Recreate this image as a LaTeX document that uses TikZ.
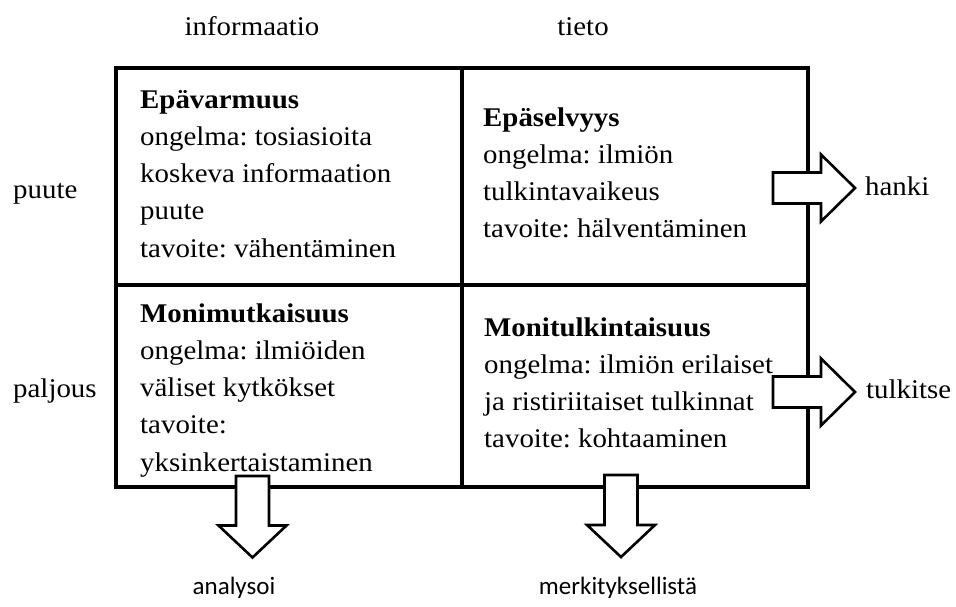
\documentclass[tikz,border=0pt]{standalone}
\usepackage{fontspec}
\newfontfamily\labelsans{Carlito}
% book-style serif for cell texts and headings, slightly widened
\newfontfamily\pal[FakeStretch=1.07]{Liberation Serif}
\usetikzlibrary{calc}
\frenchspacing

\newcommand\palsize{27}
% cell text: lines stacked in a \vtop so the node's base is the first line
\newcommand\celltext[1]{\pal\fontsize{\palsize}{37.3}\selectfont\vtop{#1}}
\newcommand\celline[1]{\hbox{\strut #1}}

% block arrows, pointing right and down, from tail coordinate to tip coordinate
\newcommand\harrow[2]{%
  \draw[blockarrow] ($(#1)+(0,-15.5)$) -- ($(#2)+(-34,-15.5)$) -- ($(#2)+(-34,-33.5)$)
    -- (#2) -- ($(#2)+(-34,33.5)$) -- ($(#2)+(-34,15.5)$) -- ($(#1)+(0,15.5)$) -- cycle;}
\newcommand\varrow[2]{%
  \draw[blockarrow] ($(#1)+(-16.5,0)$) -- ($(#2)+(-16.5,-32)$) -- ($(#2)+(-34,-32)$)
    -- (#2) -- ($(#2)+(34,-32)$) -- ($(#2)+(16.5,-32)$) -- ($(#1)+(16.5,0)$) -- cycle;}

\begin{document}
\begin{tikzpicture}[x=1pt,y=-1pt,
  gridline/.style={line width=4pt, line join=miter},
  blockarrow/.style={draw, line width=2.6pt, fill=white, line join=miter},
  celltxt/.style={anchor=base west, inner sep=0pt, align=left},
  axislabel/.style={inner sep=0pt, font=\pal\fontsize{\palsize}{30}\selectfont},
  actlabel/.style={inner sep=0pt, anchor=base, font=\labelsans\fontsize{25}{30}\selectfont}]
  \useasboundingbox[fill=white] (0,0) rectangle (956,606);

  % the 2x2 grid
  \coordinate (gnw) at (116,68);
  \coordinate (gse) at (808,487);
  \draw[gridline] (gnw) rectangle (gse);
  \draw[gridline] (462,68) -- (462,487);
  \draw[gridline] (116,285) -- (808,285);

  % column and row headings
  \node[axislabel, anchor=base] (info) at (252,35) {informaatio};
  \node[axislabel, anchor=base] (tieto) at (583,35) {tieto};
  \node[axislabel, anchor=base west] (puute) at (13,198) {puute};
  \node[axislabel, anchor=base west] (paljous) at (13,397) {paljous};

  % cell contents
  \node[celltxt] (epavarmuus) at (140,108) {\celltext{%
    \celline{\bfseries Epävarmuus}\celline{ongelma: tosiasioita}\celline{koskeva informaation}%
    \celline{puute}\celline{tavoite: vähentäminen}}};
  \node[celltxt] (epaselvyys) at (483,126) {\celltext{%
    \celline{\bfseries Epäselvyys}\celline{ongelma: ilmiön}\celline{tulkintavaikeus}%
    \celline{tavoite: hälventäminen}}};
  \node[celltxt] (monimutk) at (140,322) {\celltext{%
    \celline{\bfseries Monimutkaisuus}\celline{ongelma: ilmiöiden}\celline{väliset kytkökset}%
    \celline{tavoite:}\celline{yksinkertaistaminen}}};
  \node[celltxt] (monitulk) at (484,336) {\celltext{%
    \celline{\bfseries Monitulkintaisuus}\celline{ongelma: ilmiön erilaiset}%
    \celline{ja ristiriitaiset tulkinnat}\celline{tavoite: kohtaaminen}}};

  % actions
  \node[axislabel, anchor=base west] (hanki) at (865,195) {hanki};
  \node[axislabel, anchor=base west] (tulkitse) at (866,398) {tulkitse};
  \node[actlabel] (analysoi) at (234,594) {analysoi};
  \node[actlabel] (merkit) at (618,594) {merkityksellistä};

  % arrows from the cells towards the actions
  \coordinate (hA) at (773,188);   \coordinate (hB) at (855,188);
  \coordinate (tA) at (773,392);   \coordinate (tB) at (855,392);
  \coordinate (aA) at (252.5,476); \coordinate (aB) at (252.5,557.5);
  \coordinate (mA) at (621,475);   \coordinate (mB) at (621,557);
  \harrow{hA}{hB}
  \harrow{tA}{tB}
  \varrow{aA}{aB}
  \varrow{mA}{mB}
\end{tikzpicture}
\end{document}
